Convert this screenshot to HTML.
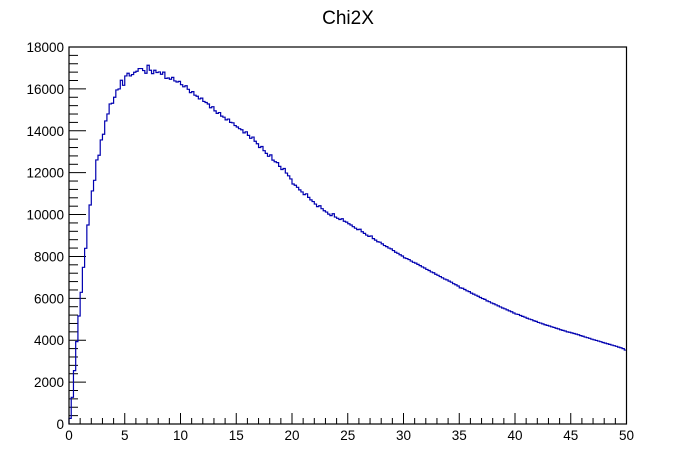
<!DOCTYPE html>
<html><head><meta charset="utf-8"><style>
html,body{margin:0;padding:0;background:#fff;}
svg{display:block;font-family:"Liberation Sans",sans-serif;}
</style></head><body>
<svg id="chart" width="696" height="472" viewBox="0 0 696 472">
<rect x="0" y="0" width="696" height="472" fill="#fff"/>
<text x="348" y="24" text-anchor="middle" font-size="19">Chi2X</text>
<g id="axes"></g>
<path id="hist" fill="none" stroke="#0000b0" stroke-width="1.2"/>
<rect x="69" y="47" width="557.5" height="377" fill="none" stroke="#000" stroke-width="1.2"/>
</svg>
<script>
const xTicks = [0,5,10,15,20,25,30,35,40,45,50];
const yTicks = [0,2000,4000,6000,8000,10000,12000,14000,16000,18000];
const binWidth = 0.2;
const counts = [
270,1274,2547,3932,5158,6288,7482,8389,9503,10458,11127,11636,12607,12830,13562,13833,14470,14804,15282,15313,15600,15950,15997,16412,16170,16619,16746,16619,16683,16794,16842,16970,16970,16874,16746,17129,16890,16730,16890,16780,16810,16700,16800,
16500,16520,16460,16550,16380,16330,16360,16200,
16100,16150,15980,15820,15870,15700,15650,15520,15560,15400,15350,15280,15100,15150,14950,14830,14870,14700,14650,14520,14560,14400,14380,14250,14180,
14100,14050,13900,13950,13780,13640,13700,13500,13380,13200,13250,13050,12920,12780,12850,12600,12520,12480,12300,12150,12200,11980,11850,11700,11460,
11400,11300,11180,11080,10950,10990,10820,10700,10620,10500,10380,10420,10280,10180,10120,10020,9950,10040,9880,9820,9760,9800,9680,9640,9560,
9500,9420,9350,9280,9300,9180,9100,9020,8960,8980,8850,8780,8700,8680,8600,8520,8470,8400,8360,8280,8200,8150,8080,8020,7930,
7900,7850,7780,7720,7680,7620,7560,7500,7450,7380,7330,7260,7220,7150,7100,7040,6980,6920,6880,6820,6770,6700,6650,6590,6500,
6480,6420,6360,6320,6250,6200,6150,6100,6040,5990,5950,5880,5840,5780,5740,5690,5640,5590,5540,5500,5450,5400,5360,5300,5250,
5230,5180,5140,5100,5050,5010,4980,4930,4900,4850,4820,4780,4740,4710,4680,4640,4610,4570,4540,4500,4470,4440,4400,4380,4350,
4320,4290,4260,4220,4190,4150,4120,4090,4050,4020,3990,3960,3930,3890,3860,3830,3800,3770,3740,3710,3670,3640,3600,3530
];
const X0=69, X1=626.5, Y0=424, Y1=47;
const xMin=0, xMax=50, yMin=0, yMax=18000;
function sx(v){return X0+(v-xMin)/(xMax-xMin)*(X1-X0);}
function sy(v){return Y0-(v-yMin)/(yMax-yMin)*(Y0-Y1);}
const NS="http://www.w3.org/2000/svg";
const axes=document.getElementById('axes');
function line(x1,y1,x2,y2,name){
  const l=document.createElementNS(NS,'line');
  l.setAttribute('x1',x1);l.setAttribute('y1',y1);l.setAttribute('x2',x2);l.setAttribute('y2',y2);
  l.setAttribute('stroke','#000');l.setAttribute('stroke-width','1');
  
  
  axes.appendChild(l);
}
function text(x,y,s,anchor,name){
  const t=document.createElementNS(NS,'text');
  t.setAttribute('x',x);t.setAttribute('y',y);t.setAttribute('text-anchor',anchor);
  t.setAttribute('font-size','13.5');t.textContent=s;
  
  
  axes.appendChild(t);
}
for(let v=xMin; v<=xMax; v+=1){
  const major = v%5===0;
  line(sx(v),Y0,sx(v),Y0-(major?11:6), major?'x-major-tick':'x-minor-tick');
}
xTicks.forEach(v=>text(sx(v),Y0+16,String(v),'middle','x-tick-label'));
for(let v=yMin; v<=yMax; v+=400){
  const major = v%2000===0;
  line(X0,sy(v),X0+(major?17:9),sy(v), major?'y-major-tick':'y-minor-tick');
}
yTicks.forEach(v=>text(X0-5,sy(v)+5,String(v),'end','y-tick-label'));
let d='M'+sx(0)+','+sy(0);
counts.forEach((c,i)=>{
  const xa=sx(i*binWidth), xb=sx((i+1)*binWidth);
  d+=' L'+xa+','+sy(c)+' L'+xb+','+sy(c);
});
document.getElementById('hist').setAttribute('d',d);
</script>
</body></html>
